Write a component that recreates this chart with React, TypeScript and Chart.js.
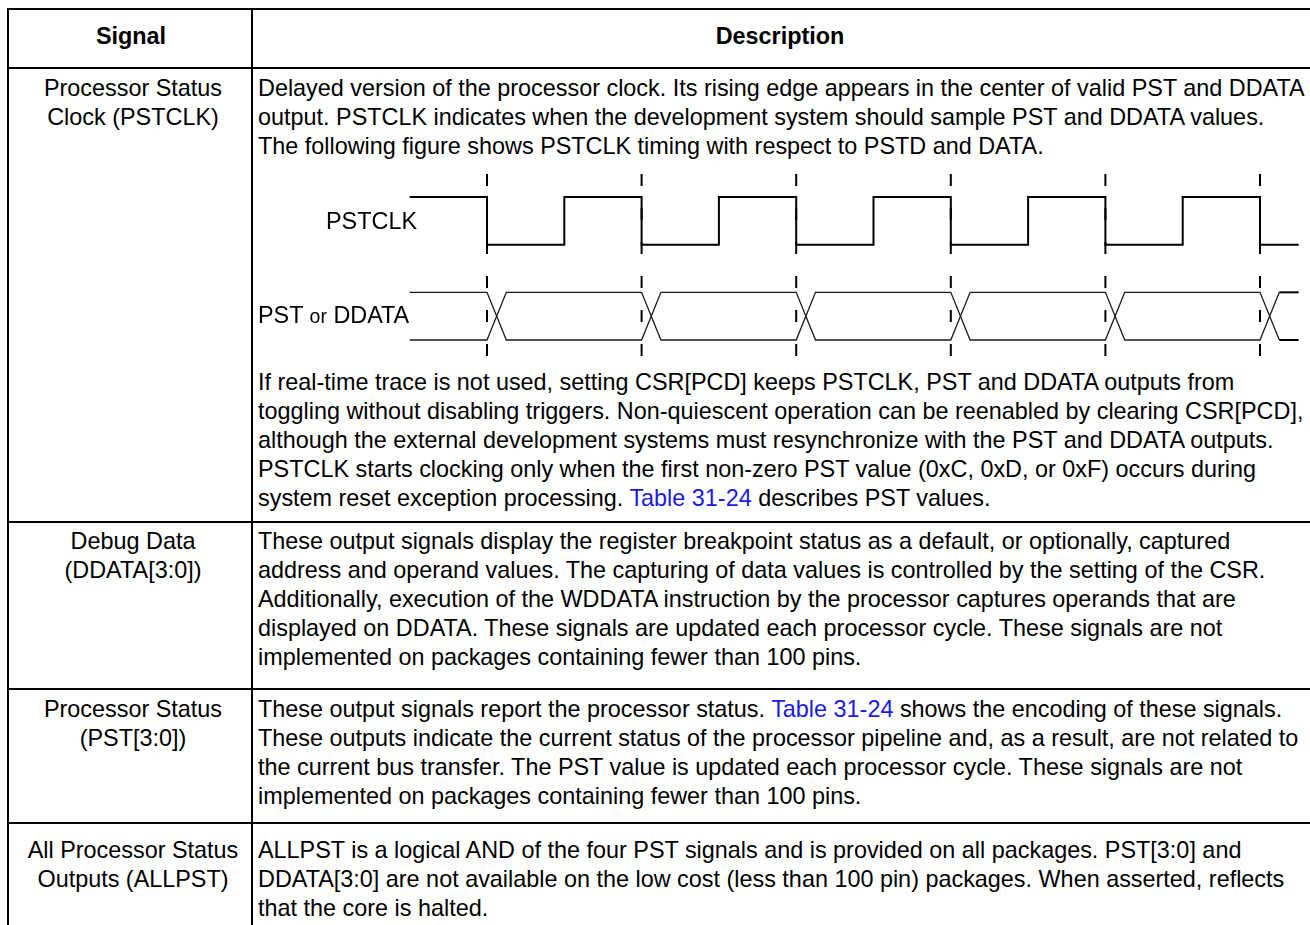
import React, { useEffect, useRef } from "react";
import { Chart, registerables } from "chart.js";

Chart.register(...registerables);

// ---------- timing diagram data (time in clock periods, levels stacked) ----------
const clockTimes = [-0.5, 0, 0.5, 1, 1.5, 2, 2.5, 3, 3.5, 4, 4.5, 5, 5.25];
const clockLevels = [3, 2, 3, 2, 3, 2, 3, 2, 3, 2, 3, 2, 2];
const busTimes = [-0.5, 0, 0.125, 1, 1.125, 2, 2.125, 3, 3.125, 4, 4.125, 5, 5.125, 5.25];
const busUpperLevels = [1, 1, 0, 0, 1, 1, 0, 0, 1, 1, 0, 0, 1, 1];
const busLowerLevels = [0, 0, 1, 1, 0, 0, 1, 1, 0, 0, 1, 1, 0, 0];
const edgeMarkers = [0, 1, 2, 3, 4, 5];
const markerSpan = [3.48, -0.38];
const diagramLabels = ["PSTCLK", "PST", "or", "DDATA"];

// ---------- table text ----------
const headers = ["Signal", "Description"];
const LINK = "Table 31-24";
const signalNames = [
  ["Processor Status", "Clock (PSTCLK)"],
  ["Debug Data", "(DDATA[3:0])"],
  ["Processor Status", "(PST[3:0])"],
  ["All Processor Status", "Outputs (ALLPST)"],
];
const row1Intro = [
  "Delayed version of the processor clock. Its rising edge appears in the center of valid PST and DDATA",
  "output. PSTCLK indicates when the development system should sample PST and DDATA values.",
  "The following figure shows PSTCLK timing with respect to PSTD and DATA.",
];
const row1Outro = [
  "If real-time trace is not used, setting CSR[PCD] keeps PSTCLK, PST and DDATA outputs from",
  "toggling without disabling triggers. Non-quiescent operation can be reenabled by clearing CSR[PCD],",
  "although the external development systems must resynchronize with the PST and DDATA outputs.",
  "PSTCLK starts clocking only when the first non-zero PST value (0xC, 0xD, or 0xF) occurs during",
  "system reset exception processing. Table 31-24 describes PST values.",
];
const row2Text = [
  "These output signals display the register breakpoint status as a default, or optionally, captured",
  "address and operand values. The capturing of data values is controlled by the setting of the CSR.",
  "Additionally, execution of the WDDATA instruction by the processor captures operands that are",
  "displayed on DDATA. These signals are updated each processor cycle. These signals are not",
  "implemented on packages containing fewer than 100 pins.",
];
const row3Text = [
  "These output signals report the processor status. Table 31-24 shows the encoding of these signals.",
  "These outputs indicate the current status of the processor pipeline and, as a result, are not related to",
  "the current bus transfer. The PST value is updated each processor cycle. These signals are not",
  "implemented on packages containing fewer than 100 pins.",
];
const row4Text = [
  "ALLPST is a logical AND of the four PST signals and is provided on all packages. PST[3:0] and",
  "DDATA[3:0] are not available on the low cost (less than 100 pin) packages. When asserted, reflects",
  "that the core is halted.",
];

// ---------- layout (pixels) ----------
const FONT = '"Liberation Sans", Arial, Helvetica, sans-serif';
const FS = 23.4;
const LH = 29;
const CENTER_OFF = 15;
const DESC_X = 258;
const SIG_CX = 133;
const HEAD_SIG_CX = 131;
const HEAD_DESC_CX = 780;
const LINK_COLOR = "#1a1ae0";

const CANVAS = { left: 300, top: 160, width: 1010, height: 210 };
const EDGE0_PX = 487;
const PERIOD_PX = 154.6;
const BUS_LOW_PX = 340;
const LEVEL_PX = 47.67;
const X_MIN = (CANVAS.left - EDGE0_PX) / PERIOD_PX;
const X_MAX = (CANVAS.left + CANVAS.width - EDGE0_PX) / PERIOD_PX;
const Y_MAX = (BUS_LOW_PX - CANVAS.top) / LEVEL_PX;
const Y_MIN = (BUS_LOW_PX - (CANVAS.top + CANVAS.height)) / LEVEL_PX;

const zip = (xs: number[], ys: number[]) => xs.map((x, i) => ({ x, y: ys[i] }));

function renderLine(s: string) {
  const parts = s.split(LINK);
  const out: React.ReactNode[] = [];
  parts.forEach((p, i) => {
    if (i > 0) out.push(<span key={"l" + i} style={{ color: LINK_COLOR }}>{LINK}</span>);
    out.push(<span key={"t" + i}>{p}</span>);
  });
  return out;
}

function TextBlock({ lines, firstCenter, x, center, bold }: { lines: string[]; firstCenter: number; x: number; center?: boolean; bold?: boolean }) {
  return (
    <>
      {lines.map((ln, i) => (
        <div
          key={i}
          style={{
            position: "absolute",
            left: x,
            top: firstCenter + i * LH - CENTER_OFF,
            height: LH,
            lineHeight: LH + "px",
            fontSize: FS,
            fontFamily: FONT,
            fontWeight: bold ? "bold" : "normal",
            whiteSpace: "pre",
            color: "#000",
            transform: center ? "translateX(-50%)" : undefined,
          }}
        >
          {renderLine(ln)}
        </div>
      ))}
    </>
  );
}

function Rule({ left, top, width, height }: { left: number; top: number; width: number; height: number }) {
  return <div style={{ position: "absolute", left, top, width, height, background: "#000" }} />;
}

function TimingDiagram() {
  const ref = useRef<HTMLCanvasElement | null>(null);
  useEffect(() => {
    if (!ref.current) return;
    const lastBusSeg = busTimes.length - 2;
    const busSegment = {
      borderWidth: (ctx: any) => (ctx.p0DataIndex === lastBusSeg ? 2 : 1.3),
      borderColor: (ctx: any) => (ctx.p0DataIndex === lastBusSeg ? "#000" : "#1a1a1a"),
    };
    const markerSets = edgeMarkers.map((t) => ({
      data: [
        { x: t, y: markerSpan[0] },
        { x: t, y: markerSpan[1] },
      ],
      borderColor: "#000",
      borderWidth: 2,
      borderDash: [12, 22],
      pointRadius: 0,
      fill: false,
    }));
    const chart = new Chart(ref.current, {
      type: "line",
      data: {
        datasets: [
          {
            data: zip(clockTimes, clockLevels),
            borderColor: "#000",
            borderWidth: 2,
            stepped: "before",
            pointRadius: 0,
            fill: false,
          },
          {
            data: zip(busTimes, busUpperLevels),
            borderColor: "#1a1a1a",
            borderWidth: 1.3,
            segment: busSegment,
            pointRadius: 0,
            fill: false,
          },
          {
            data: zip(busTimes, busLowerLevels),
            borderColor: "#1a1a1a",
            borderWidth: 1.3,
            segment: busSegment,
            pointRadius: 0,
            fill: false,
          },
          ...markerSets,
        ] as any,
      },
      options: {
        animation: false,
        responsive: false,
        maintainAspectRatio: false,
        events: [],
        layout: { padding: 0 },
        plugins: { legend: { display: false }, tooltip: { enabled: false } },
        elements: { line: { tension: 0 }, point: { radius: 0 } },
        scales: {
          x: { type: "linear", min: X_MIN, max: X_MAX, display: false },
          y: { type: "linear", min: Y_MIN, max: Y_MAX, display: false },
        },
      } as any,
    });
    return () => chart.destroy();
  }, []);
  return (
    <canvas
      ref={ref}
      width={CANVAS.width}
      height={CANVAS.height}
      style={{ position: "absolute", left: CANVAS.left, top: CANVAS.top, width: CANVAS.width, height: CANVAS.height }}
    />
  );
}

export default function App() {
  const labelStyle: React.CSSProperties = {
    position: "absolute",
    fontFamily: FONT,
    fontSize: FS,
    lineHeight: LH + "px",
    whiteSpace: "pre",
    color: "#000",
  };
  return (
    <div style={{ position: "absolute", left: 0, top: 0, width: 1310, height: 925, overflow: "hidden", background: "#fff" }}>
      {/* grid rules */}
      <Rule left={7} top={8} width={1320} height={2} />
      <Rule left={7} top={67} width={1320} height={2} />
      <Rule left={7} top={521} width={1320} height={2} />
      <Rule left={7} top={688} width={1320} height={2} />
      <Rule left={7} top={822} width={1320} height={2} />
      <Rule left={7} top={8} width={2} height={930} />
      <Rule left={251} top={8} width={2} height={930} />

      {/* headers */}
      <TextBlock lines={[headers[0]]} firstCenter={37} x={HEAD_SIG_CX} center bold />
      <TextBlock lines={[headers[1]]} firstCenter={37} x={HEAD_DESC_CX} center bold />

      {/* signal column */}
      <TextBlock lines={signalNames[0]} firstCenter={89} x={SIG_CX} center />
      <TextBlock lines={signalNames[1]} firstCenter={542} x={SIG_CX} center />
      <TextBlock lines={signalNames[2]} firstCenter={710} x={SIG_CX} center />
      <TextBlock lines={signalNames[3]} firstCenter={851} x={SIG_CX} center />

      {/* description column */}
      <TextBlock lines={row1Intro} firstCenter={89} x={DESC_X} />
      <TextBlock lines={row1Outro} firstCenter={383} x={DESC_X} />
      <TextBlock lines={row2Text} firstCenter={542} x={DESC_X} />
      <TextBlock lines={row3Text} firstCenter={710} x={DESC_X} />
      <TextBlock lines={row4Text} firstCenter={851} x={DESC_X} />

      {/* timing diagram */}
      <TimingDiagram />
      <div style={{ ...labelStyle, left: 326, top: 222 - CENTER_OFF }}>{diagramLabels[0]}</div>
      <div style={{ ...labelStyle, left: DESC_X, top: 316 - CENTER_OFF }}>
        {diagramLabels[1] + " "}
        <span style={{ fontSize: 19.5 }}>{diagramLabels[2]}</span>
        {" " + diagramLabels[3]}
      </div>
    </div>
  );
}
